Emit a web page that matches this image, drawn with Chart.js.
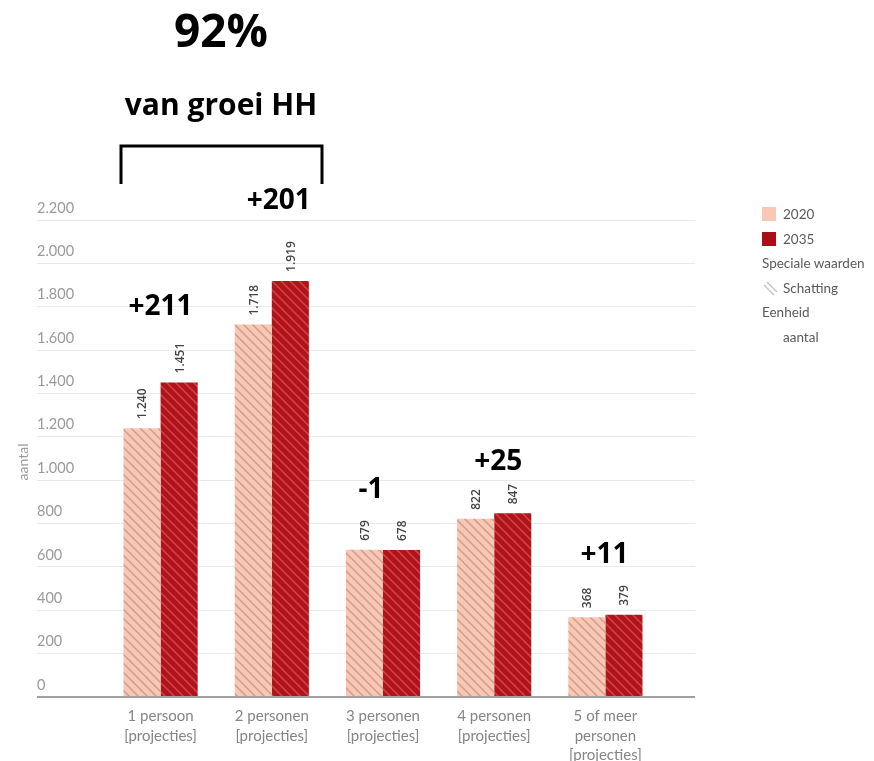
<!DOCTYPE html>
<html lang="nl">
<head>
<meta charset="UTF-8">
<title>Huishoudens naar grootte 2020-2035</title>
<script src="https://cdn.jsdelivr.net/npm/chart.js"></script>
<style>
    html, body {
        margin: 0;
        padding: 0;
        background: #fff;
    }

    .wrap {
        position: relative;
        width: 874px;
        height: 761px;
    }

    canvas {
        display: block;
    }

    /* legend on the right */
    .legend {
        position: absolute;
        left: 762px;
        top: 202px;
        font-family: Lato, sans-serif;
        font-size: 13.5px;
        color: #5a5a5a;
    }

    .legend div {
        height: 24.6px;
        line-height: 24.6px;
        white-space: nowrap;
    }

    .legend .sw {
        display: inline-block;
        width: 14px;
        height: 14px;
        margin-right: 7px;
        vertical-align: -2px;
    }

    .legend .ind {
        padding-left: 21px;
    }

    .legend svg {
        position: absolute;
        left: 1px;
        margin-top: 5px;
    }
</style>
</head>
<body>
<div class="wrap">
    <canvas id="chart" width="874" height="761"></canvas>
    <div class="legend">
        <div><span class="sw" style="background:#f8c8b5"></span>2020</div>
        <div><span class="sw" style="background:#a80f17"></span>2035</div>
        <div>Speciale waarden</div>
        <div class="ind"><svg width="15" height="15"><path d="M1 4 L11 14 M4 1 L14 11" stroke="#c4c4c4" stroke-width="1.4"/></svg>Schatting</div>
        <div>Eenheid</div>
        <div class="ind">aantal</div>
    </div>
</div>

<script>
    const categories = [
        ['1 persoon', '[projecties]'],
        ['2 personen', '[projecties]'],
        ['3 personen', '[projecties]'],
        ['4 personen', '[projecties]'],
        ['5 of meer', 'personen', '[projecties]']
    ];
    const years = ['2020', '2035'];
    const values2020 = [1240, 1718, 679, 822, 368];
    const values2035 = [1451, 1919, 678, 847, 379];
    const yMax = 2200;
    const yStep = 200;

    // how far the growth figure floats above each pair of bars
    const deltaLift = [75, 80, 60, 51, 60];
    const deltaShift = [0, 7, -12, 4, -1];

    const fmt = v => String(v).replace(/\B(?=(\d{3})+(?!\d))/g, '.');

    // diagonal hatch used for the "Schatting" bars
    function hatch(base, stripe) {
        const c = document.createElement('canvas');
        c.width = c.height = 9;
        const g = c.getContext('2d');
        g.fillStyle = base;
        g.fillRect(0, 0, 9, 9);
        g.strokeStyle = stripe;
        g.lineWidth = 1.5;
        g.beginPath();
        g.moveTo(-1, -1); g.lineTo(10, 10);
        g.moveTo(-1, 8); g.lineTo(1, 10);
        g.moveTo(8, -1); g.lineTo(10, 1);
        g.stroke();
        return g.createPattern(c, 'repeat');
    }

    const gridColor = ctx => (ctx.tick && ctx.tick.value === 0) ? '#a0a0a0' : '#e9e9e9';
    const gridWidth = ctx => (ctx.tick && ctx.tick.value === 0) ? 2 : 1;

    // rotated value above every bar
    const valueLabels = {
        id: 'valueLabels',
        afterDatasetsDraw(chart) {
            const ctx = chart.ctx;
            ctx.save();
            ctx.font = '600 12px "Open Sans", sans-serif';
            ctx.fillStyle = '#444';
            ctx.textAlign = 'left';
            ctx.textBaseline = 'middle';
            chart.data.datasets.forEach((ds, di) => {
                chart.getDatasetMeta(di).data.forEach((bar, i) => {
                    ctx.save();
                    ctx.translate(bar.x + 1, bar.y - 9);
                    ctx.rotate(-Math.PI / 2);
                    ctx.fillText(fmt(ds.data[i]), 0, 0);
                    ctx.restore();
                });
            });
            ctx.restore();
        }
    };

    // growth 2020 -> 2035 per household size, plus the header
    const growthNotes = {
        id: 'growthNotes',
        afterDraw(chart) {
            const ctx = chart.ctx;
            const x = chart.scales.x;
            const y = chart.scales.y;
            ctx.save();
            ctx.fillStyle = '#000';
            ctx.textAlign = 'center';
            ctx.textBaseline = 'middle';
            ctx.font = 'bold 28px "Open Sans", sans-serif';
            values2020.forEach((v, i) => {
                const d = values2035[i] - v;
                const top = y.getPixelForValue(Math.max(v, values2035[i]));
                ctx.fillText((d > 0 ? '+' : '') + d, x.getPixelForValue(i) + deltaShift[i], top - deltaLift[i]);
            });

            ctx.font = 'bold 46px "Open Sans", sans-serif';
            ctx.fillText('92%', 221, 34);
            ctx.font = 'bold 30px "Open Sans", sans-serif';
            ctx.fillText('van groei HH', 221, 106);

            ctx.strokeStyle = '#000';
            ctx.lineWidth = 3;
            ctx.beginPath();
            ctx.moveTo(121, 184);
            ctx.lineTo(121, 146);
            ctx.lineTo(322, 146);
            ctx.lineTo(322, 184);
            ctx.stroke();

            // axis unit
            ctx.font = '14px Lato, sans-serif';
            ctx.fillStyle = '#9a9a9a';
            ctx.translate(23, 462);
            ctx.rotate(-Math.PI / 2);
            ctx.fillText('aantal', 0, 0);
            ctx.restore();
        }
    };

    const ctx = document.getElementById('chart').getContext('2d');
    new Chart(ctx, {
        type: 'bar',
        data: {
            labels: categories,
            datasets: [{
                label: years[0],
                data: values2020,
                backgroundColor: hatch('#f8c8b5', '#d29c8c'),
                borderWidth: 0,
                categoryPercentage: 0.667,
                barPercentage: 1.0
            }, {
                label: years[1],
                data: values2035,
                backgroundColor: hatch('#b1131b', '#d1464a'),
                borderWidth: 0,
                categoryPercentage: 0.667,
                barPercentage: 1.0
            }]
        },
        options: {
            responsive: false,
            animation: false,
            layout: {
                padding: { left: 37, right: 179, top: 220, bottom: 0 }
            },
            plugins: {
                legend: { display: false },
                tooltip: { enabled: false }
            },
            scales: {
                x: {
                    grid: { display: false },
                    border: { display: false },
                    ticks: {
                        color: '#858585',
                        font: { family: 'Lato', size: 15, lineHeight: 1.32 },
                        padding: 1,
                        maxRotation: 0,
                        autoSkip: false
                    },
                    afterFit: s => { s.height = 64; }
                },
                y: {
                    min: 0,
                    max: yMax,
                    border: { display: false },
                    grid: {
                        color: gridColor,
                        lineWidth: gridWidth,
                        tickLength: 68
                    },
                    ticks: {
                        stepSize: yStep,
                        crossAlign: 'far',
                        labelOffset: -12,
                        color: '#9a9a9a',
                        font: { family: 'Lato', size: 14.5 },
                        callback: v => fmt(v)
                    },
                    afterFit: s => { s.width = 68; }
                },
                y2: {
                    position: 'right',
                    min: 0,
                    max: yMax,
                    border: { display: false },
                    grid: {
                        color: gridColor,
                        lineWidth: gridWidth,
                        drawOnChartArea: false,
                        tickLength: 34
                    },
                    ticks: { stepSize: yStep, display: false },
                    afterFit: s => { s.width = 34; }
                }
            }
        },
        plugins: [valueLabels, growthNotes]
    });
</script>
</body>
</html>
